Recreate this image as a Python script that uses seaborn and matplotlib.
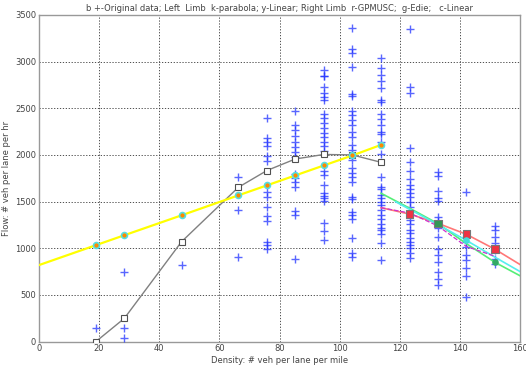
import numpy as np
import pandas as pd
import matplotlib
matplotlib.use("Agg")
import matplotlib.pyplot as plt
import seaborn as sns

# ---- data ----
densities = [18.9, 28.4, 47.4, 66.3, 75.8, 85.2, 94.7, 104.2, 113.7, 123.2, 132.6, 142.1, 151.6]
obs_flows = [
    [145],
    [750, 145, 35],
    [820],
    [1765, 1415, 905],
    [2400, 2180, 2140, 2095, 1990, 1935, 1600, 1550, 1440, 1350, 1290, 1070, 1040, 990],
    [2470, 2320, 2265, 2200, 2135, 2085, 2035, 1980, 1800, 1750, 1705, 1655, 1400, 1355, 890],
    [2910, 2850, 2840, 2730, 2660, 2620, 2590, 2435, 2390, 2345, 2290, 2240, 2190, 2140, 2095,
     2045, 1830, 1785, 1675, 1590, 1560, 1535, 1510, 1275, 1190, 1090],
    [3355, 3130, 3095, 2945, 2650, 2635, 2475, 2425, 2375, 2320, 2250, 2190, 2105, 2050, 2000,
     1950, 1855, 1810, 1765, 1705, 1550, 1525, 1390, 1355, 1315, 1105, 945, 905],
    [3040, 2935, 2860, 2790, 2720, 2590, 2570, 2435, 2380, 2320, 2250, 2220, 2140, 2010, 1765,
     1660, 1630, 1570, 1535, 1500, 1465, 1415, 1355, 1310, 1260, 1215, 1195, 1155, 1060, 875],
    [3345, 2730, 2665, 2075, 1920, 1830, 1740, 1680, 1640, 1595, 1550, 1500, 1445, 1300, 1255,
     1200, 1160, 1105, 1070, 1035, 1000, 945, 895],
    [1815, 1775, 1615, 1535, 1510, 1340, 1295, 1215, 1120, 990, 930, 855, 750, 670, 605],
    [1605, 1125, 1070, 1015, 930, 875, 785, 705, 480],
    [1240, 1195, 1125, 1055, 980, 890, 830],
]

# left limb
left_k = [18.9, 28.4, 47.4, 66.3, 75.8, 85.2, 94.7, 104.2, 113.7]
parabola_q = [0, 250, 1070, 1653, 1833, 1956, 2005, 2000, 1921]
linear_left_k = [0, 18.9, 28.4, 47.4, 66.3, 75.8, 85.2, 94.7, 104.2, 113.7]
linear_left_q = [820, 1033, 1140, 1353, 1567, 1674, 1780, 1887, 1994, 2107]

# right limb
gpmusc_k = [113.7, 123.2, 132.6, 142.1, 151.6, 160]
gpmusc_q = [1435, 1367, 1268, 1150, 990, 825]
edie_k = [113.7, 123.2, 132.6, 142.1, 151.6, 160]
edie_q = [1590, 1430, 1265, 1050, 850, 705]
linr_k = [118.5, 132.6, 142.1, 151.6, 160]
linr_q = [1500, 1255, 1085, 905, 750]
mag_k = [113.7, 123.2, 132.6, 142.1, 151.6]
mag_q = [1435, 1378, 1240, 1020, 915]
sq_k = [123.2, 132.6, 142.1, 151.6]
sq_q = [1367, 1265, 1150, 990]

title = "b +-Original data; Left  Limb  k-parabola; y-Linear; Right Limb  r-GPMUSC;  g-Edie;   c-Linear"
xlabel = "Density: # veh per lane per mile"
ylabel = "Flow: # veh per lane per hr"

# ---- plot ----
sns.set_style("white")
plt.rcParams['font.family'] = ['DejaVu Sans']
fig = plt.figure(figsize=(5.26, 3.71), dpi=100)
ax = fig.add_axes([0.074, 0.079, 0.915, 0.881])

obs = pd.DataFrame({
    "k": [d for d, fl in zip(densities, obs_flows) for _ in fl],
    "q": [q for fl in obs_flows for q in fl],
})
sns.scatterplot(data=obs, x="k", y="q", marker="+", color="#2233ff", s=28,
                linewidth=1.0, alpha=0.75, ax=ax, zorder=3)

def line(kk, qq, **kw):
    df = pd.DataFrame({"k": kk, "q": qq})
    sns.lineplot(data=df, x="k", y="q", sort=False, estimator=None, ax=ax, **kw)

line(left_k, parabola_q, color="#808080", linewidth=1.0, marker="s", markersize=5,
     markerfacecolor="white", markeredgecolor="#505050", markeredgewidth=0.8, zorder=4)
line(linear_left_k, linear_left_q, color="#ffff00", linewidth=1.6, zorder=4)
ax.scatter(linear_left_k[1:], linear_left_q[1:], s=18, color="#ff8800",
           edgecolors="#55e0e0", linewidths=1.2, zorder=5)

line(gpmusc_k, gpmusc_q, color="#ff7777", linewidth=1.2, zorder=4)
line(edie_k, edie_q, color="#55ee77", linewidth=1.2, zorder=4)
line(linr_k, linr_q, color="#55eeee", linewidth=1.2, zorder=4)
line(mag_k, mag_q, color="#cc33cc", linewidth=0.9, linestyle="--", zorder=4)
ax.scatter(sq_k, sq_q, marker="s", s=30, c=["#ee3344", "#339955", "#ee3344", "#ee3344"],
           edgecolors="#777777", linewidths=0.8, zorder=6)
ax.scatter([142.1], [1085], s=14, color="#44dddd", zorder=6)
ax.scatter([151.6], [850], s=14, color="#33aa66", zorder=6)

ax.set_xlim(0, 160)
ax.set_ylim(0, 3500)
ax.set_xticks(np.arange(0, 161, 20))
ax.set_yticks(np.arange(0, 3501, 500))
ax.grid(True, linestyle=(0, (1.5, 2)), color="#333333", linewidth=0.6)
ax.set_axisbelow(True)
for s in ax.spines.values():
    s.set_color("#999999")
    s.set_linewidth(1.0)
ax.tick_params(labelsize=6, colors="#555555", length=2, direction="in", pad=2)
for lab in ax.get_xticklabels() + ax.get_yticklabels():
    lab.set_color("#444444")
ax.set_xlabel(xlabel, fontsize=6, color="#444444", labelpad=2)
ax.set_ylabel(ylabel, fontsize=6, color="#444444", labelpad=3)
ax.set_title(title, fontsize=6, color="#444444", pad=3)

fig.savefig("out.png", dpi=100)
